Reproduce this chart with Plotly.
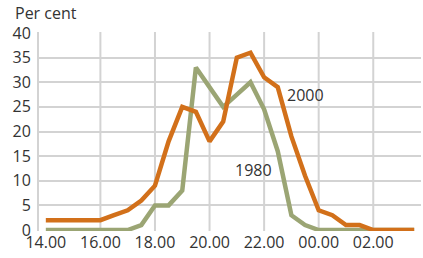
import plotly.graph_objects as go

times = ["14.00","14.30","15.00","15.30","16.00","16.30","17.00","17.30","18.00","18.30",
         "19.00","19.30","20.00","20.30","21.00","21.30","22.00","22.30","23.00","23.30",
         "00.00","00.30","01.00","01.30","02.00","02.30","03.00","03.30"]
y2000 = [2,2,2,2,2,3,4,6,9,18,25,24,18,22,35,36,31,29,19,11,4,3,1,1,0,0,0,0]
y1980 = [0,0,0,0,0,0,0,1,5,5,8,33,29,25,27.5,30,24.5,16,3,1,0,0,0,0,0,0,0,0]
tick_labels = ["14.00","16.00","18.00","20.00","22.00","00.00","02.00"]

xi = list(range(len(times)))
tickvals = [times.index(t) for t in tick_labels]

fig = go.Figure()
fig.add_trace(go.Scatter(x=xi, y=y1980, mode="lines", line=dict(color="#9ba574", width=4.5),
                         name="1980", hoverinfo="skip"))
fig.add_trace(go.Scatter(x=xi, y=y2000, mode="lines", line=dict(color="#d2701a", width=4.5),
                         name="2000", hoverinfo="skip"))

grid = "#d3d3d3"
for tv in tickvals[1:]:
    fig.add_vline(x=tv, line=dict(color=grid, width=2), layer="below")

fig.add_annotation(x=19.0, y=27.4, text="2000", showarrow=False,
                   font=dict(size=16, color="#333333"))
fig.add_annotation(x=15.25, y=12.2, text="1980", showarrow=False,
                   font=dict(size=16, color="#333333"))
fig.add_annotation(xref="paper", yref="paper", x=-0.068, y=1.095, xanchor="left", yanchor="middle",
                   text="Per cent", showarrow=False, font=dict(size=16, color="#333333"))

fig.update_layout(
    width=423, height=258,
    margin=dict(l=39, r=2, t=32, b=27, autoexpand=False),
    paper_bgcolor="white", plot_bgcolor="white",
    showlegend=False,
    font=dict(family="Open Sans", size=16, color="#333333"),
    xaxis=dict(range=[-0.5, 27.5], tickvals=tickvals, ticktext=tick_labels, automargin=False,
               showgrid=False, zeroline=False, showline=False, ticks="",
               tickfont=dict(size=16, color="#333333"), ticklabelstandoff=0),
    yaxis=dict(range=[-0.2, 40.2], tickvals=list(range(0, 41, 5)), automargin=False,
               showgrid=True, gridcolor=grid, gridwidth=2, zeroline=False,
               showline=True, linecolor=grid, linewidth=2, ticks="",
               tickfont=dict(size=16, color="#333333"), ticklabelstandoff=3),
)

fig.write_html("out.html", config={"displayModeBar": False},
               post_script="document.body.style.margin='0';document.body.style.overflow='hidden';")
